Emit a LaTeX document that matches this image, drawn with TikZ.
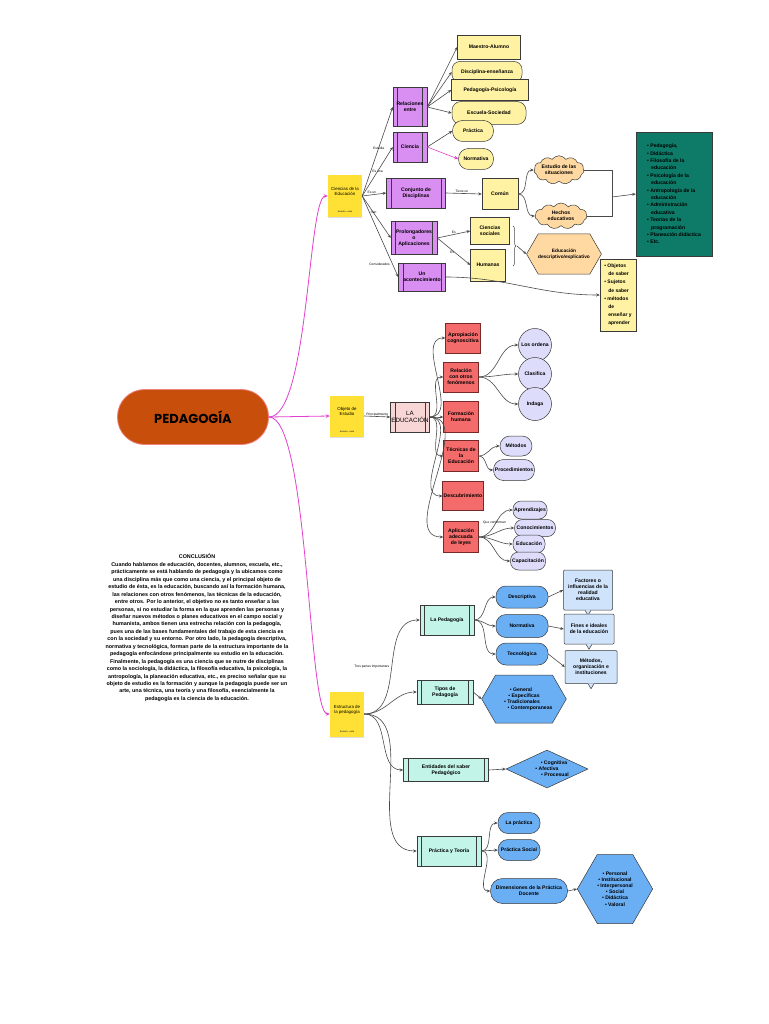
\documentclass[tikz,border=0pt]{standalone}
\usepackage{fontspec}
\setmainfont{Liberation Sans}
\newfontfamily\titlefont{Poppins}
\usetikzlibrary{arrows.meta,shapes.geometric,shapes.symbols,shapes.misc,decorations.pathreplacing,shadows}
\definecolor{edgec}{HTML}{4A4A4A}
\definecolor{bord}{HTML}{3A3A3A}
\definecolor{pinkl}{HTML}{E43FCF}
\definecolor{stickyY}{HTML}{FFE135}
\definecolor{purp}{HTML}{D98EF2}
\definecolor{yel}{HTML}{FFF3A3}
\definecolor{orl}{HTML}{FFD9A1}
\definecolor{tealD}{HTML}{0D7B67}
\definecolor{pinkL}{HTML}{F9D6D6}
\definecolor{redb}{HTML}{F46B6B}
\definecolor{lav}{HTML}{DDDDFB}
\definecolor{tealL}{HTML}{C2F5E7}
\definecolor{blueM}{HTML}{6AAEF4}
\definecolor{blueL}{HTML}{CFE3FB}
\definecolor{pedo}{HTML}{C84F0B}
\definecolor{pedbd}{HTML}{F08080}
\newcommand\nfs{\fontsize{5.1}{6.1}\selectfont\bfseries}
\newcommand\lfs{\fontsize{3.3}{4}\selectfont}
\tikzset{
  base/.style={font=\nfs, align=center, inner sep=1pt, text=black},
  ln/.style={draw=edgec, line width=0.6pt, -{Stealth[length=3.5pt,width=3pt]}},
  plain/.style={draw=edgec, line width=0.6pt},
  pk/.style={draw=pinkl, line width=0.8pt, -{Stealth[length=4pt,width=3.5pt]}},
  lbl/.style={font=\lfs, inner sep=0.5pt, text=black},
  sticky/.style={base, fill=stickyY, font={\fontsize{4.4}{5.4}\selectfont}, minimum width=34, minimum height=42,
    drop shadow={shadow xshift=0.3pt, shadow yshift=-1.2pt, opacity=0.25}},
  authortxt/.style={font={\fontsize{2.2}{2.5}\selectfont\bfseries}, inner sep=0pt, text=black!80},
  proc/.style={base, draw=bord, line width=0.5pt,
    path picture={\draw[bord, line width=0.5pt]
      ([xshift=4.5pt]path picture bounding box.north west) -- ([xshift=4.5pt]path picture bounding box.south west)
      ([xshift=-4.5pt]path picture bounding box.north east) -- ([xshift=-4.5pt]path picture bounding box.south east);}},
  purpbox/.style={proc, fill=purp},
  pinkbox/.style={proc, fill=pinkL},
  tealbox/.style={proc, fill=tealL},
  ybox/.style={base, draw=bord, line width=0.5pt, fill=yel},
  redbox/.style={base, draw=bord!70!red, line width=0.5pt, fill=redb},
  lavpill/.style={base, draw=bord, line width=0.5pt, fill=lav, rounded corners=8pt},
  lavcirc/.style={base, draw=bord, line width=0.5pt, fill=lav, circle, minimum size=33},
  bluepill/.style={base, draw=bord, line width=0.5pt, fill=blueM, rounded corners=10pt},
  callbox/.style={base, draw=bord, line width=0.5pt, fill=blueL, rounded corners=1pt},
  hexa/.style={base, draw=bord, line width=0.5pt, signal, signal to=west and east, signal pointer angle=120, inner sep=0pt},
  pedbox/.style={fill=pedo, draw=pedbd, line width=0.8pt, rounded corners=27pt, minimum width=151, minimum height=55,
    font={\titlefont\bfseries\fontsize{13}{13}\selectfont}, text=black},
}
\begin{document}
\begin{tikzpicture}[x=1pt,y=-1pt]
\useasboundingbox (0,0) rectangle (768,1024);
\fill[white] (0,0) rectangle (768,1024);

% ---------- main ----------
\node[pedbox] (ped) at (193,417) {PEDAGOGÍA};

\node[sticky] (s1) at (345,196) {Ciencias de la\\Educación\\[4pt]};
\node[authortxt] at ([yshift=5pt]s1.south) {Autor/a · nota};
\node[sticky, minimum height=41] (s2) at (347,416) {Objeto de\\Estudio\\[4pt]};
\node[authortxt] at ([yshift=5pt]s2.south) {Autor/a · nota};
\node[sticky, minimum height=45] (s3) at (347,714) {Estructura de\\la pedagogía\\[4pt]};
\node[authortxt] at ([yshift=5pt]s3.south) {Autor/a · nota};

\draw[pk] (ped.east) .. controls +(40,0) and +(-20,0) .. (s1.west);
\draw[pk] (ped.east) -- (s2.west);
\draw[pk] (ped.east) .. controls +(40,0) and +(-22,0) .. (s3.west);

% ---------- Ciencias de la educación ----------
\node[purpbox, minimum width=34, minimum height=39] (rel) at (410,107) {Relaciones\\entre};
\node[purpbox, minimum width=34, minimum height=30] (cie) at (410,147) {Ciencia};
\node[purpbox, minimum width=59, minimum height=30] (con) at (416,193) {Conjunto de\\Disciplinas};
\node[purpbox, minimum width=46, minimum height=33] (pro) at (414,238) {Prolongadores\\o\\Aplicaciones};
\node[purpbox, minimum width=47, minimum height=28] (aco) at (422,277) {Un\\acontecimiento};

\draw[ln] (s1.east) -- node[lbl,pos=0.54] {Estudia} (rel.west);
\draw[ln] (s1.east) -- node[lbl,pos=0.5] {Es una} (cie.west);
\draw[ln] (s1.east) -- node[lbl,pos=0.4,above] {Es un} (con.west);
\draw[ln] (s1.east) -- node[lbl,pos=0.4] {Son} (pro.west);
\draw[ln] (s1.east) -- node[lbl,pos=0.84,anchor=east,xshift=-2pt] {Considerados} (aco.west);

\node[ybox, minimum width=63, minimum height=24] (ma) at (489,47) {Maestro-Alumno};
\node[ybox, rounded corners=8pt, minimum width=70, minimum height=21] (de) at (487,72) {Disciplina-enseñanza};
\node[ybox, minimum width=77, minimum height=21] (pp) at (490,90) {Pedagogía-Psicología};
\node[ybox, rounded corners=9pt, minimum width=74, minimum height=23] (es) at (489,113) {Escuela-Sociedad};
\node[ybox, rounded corners=10pt, minimum width=41, minimum height=21] (pra) at (473,131) {Práctica};
\node[ybox, rounded corners=10pt, minimum width=35, minimum height=21] (nor) at (476,159) {Normativa};

\draw[ln] (rel.east) -- (ma.west);
\draw[ln] (rel.east) -- (de.west);
\draw[ln] (rel.east) -- (pp.west);
\draw[ln] (rel.east) -- (es.west);
\draw[ln] (cie.east) -- (pra.west);
\draw[pk, line width=0.6pt] (cie.east) -- (nor.west);

\node[ybox, minimum width=36, minimum height=31] (com) at (500,194) {Común};
\draw[ln] (con.east) -- node[lbl,pos=0.45,above] {Tiene un} (com.west);

\node[base, draw=bord, line width=0.5pt, fill=orl, cloud, cloud puffs=11, cloud puff arc=110, aspect=2.2,
  minimum width=48, minimum height=26, inner sep=0pt] (est) at (559,170) {Estudio de las\\situaciones};
\node[base, draw=bord, line width=0.5pt, fill=orl, cloud, cloud puffs=11, cloud puff arc=110, aspect=2.2,
  minimum width=52, minimum height=26, inner sep=0pt] (hec) at (561,216) {Hechos\\educativos};
\draw[ln] (com.east) to[out=0,in=180] (est.west);
\draw[ln] (com.east) to[out=0,in=180] (hec.west);

\node[base, draw=bord, line width=0.5pt, fill=tealD, minimum width=76, minimum height=124, align=left,
  font={\fontsize{5.1}{7.4}\selectfont\bfseries}] (tl) at (674,194)
  {• Pedagogía,\\• Didáctica\\• Filosofía de la\\\hspace*{4pt}educación\\• Psicología de la\\\hspace*{4pt}educación\\• Antropología de la\\\hspace*{4pt}educación\\• Administración\\\hspace*{4pt}educativa\\• Teorías de la\\\hspace*{4pt}programación\\• Planeación didáctica\\• Etc.};
\coordinate (jn) at (612,197);
\draw[plain] (est.east) -| (jn);
\draw[plain] (hec.east) -| (jn);
\draw[ln] (jn) -- (tl.west);

\node[ybox, minimum width=39, minimum height=27] (cs) at (490,231) {Ciencias\\sociales};
\node[ybox, minimum width=35, minimum height=32] (hum) at (488,265) {Humanas};
\draw[ln] (pro.east) -- node[lbl,pos=0.5,above] {Es} (cs.west);
\draw[ln] (pro.east) -- node[lbl,pos=0.45,below] {Es} (hum.west);

\node[hexa, fill=orl, minimum width=67, minimum height=40, font={\fontsize{4.8}{6}\selectfont\bfseries}] (edh) at (564,254) {Educación\\descriptivo/explicativo};
\draw[edgec, line width=0.5pt, decorate, decoration={brace, amplitude=3pt}] (513,226) -- (513,266);
\coordinate (bt) at (517,246);
\draw[ln] (bt) -- (edh.west);

\node[ybox, minimum width=36, minimum height=72, align=left, font={\fontsize{5}{8.2}\selectfont\bfseries}] (obj) at (618,295)
  {• Objetos\\\hspace*{4pt}de saber\\• Sujetos\\\hspace*{4pt}de saber\\• métodos\\\hspace*{4pt}de\\\hspace*{4pt}enseñar y\\\hspace*{4pt}aprender};
\draw[ln] (aco.east) to[out=0,in=180] (obj.west);

% ---------- Objeto de estudio ----------
\node[pinkbox, minimum width=35, minimum height=30, font={\fontsize{6.2}{7.2}\selectfont}] (lae) at (410,417) {LA\\EDUCACIÓN};
\draw[ln] (s2.east) -- node[lbl,above] {Principalmente} (lae.west);

\node[redbox, minimum width=35, minimum height=30] (r1) at (463,338) {Apropiación\\cognoscitiva};
\node[redbox, minimum width=35, minimum height=30] (r2) at (461,377) {Relación\\con otros\\fenómenos};
\node[redbox, minimum width=35, minimum height=31] (r3) at (461,417) {Formación\\humana};
\node[redbox, minimum width=35, minimum height=31] (r4) at (461,456) {Técnicas de\\la\\Educación};
\node[redbox, minimum width=40, minimum height=29] (r5) at (463,496) {Descubrimiento};
\node[redbox, minimum width=35, minimum height=31] (r6) at (461,537) {Aplicación\\adecuada\\de leyes};
\foreach \r in {r1,r2,r3,r4,r5,r6} \draw[ln] (lae.east) to[out=0,in=180] (\r.west);

\node[lavcirc] (c1) at (535,345) {Los ordena};
\node[lavcirc] (c2) at (535,374) {Clasifica};
\node[lavcirc] (c3) at (535,404) {Indaga};
\foreach \c in {c1,c2,c3} \draw[ln] (r2.east) to[out=0,in=180] (\c.west);

\node[lavpill, rounded corners=10pt, minimum width=32, minimum height=20] (m1) at (516,446) {Métodos};
\node[lavpill, rounded corners=10pt, minimum width=41, minimum height=21] (m2) at (514,470) {Procedimientos};
\draw[ln] (r4.east) to[out=0,in=180] (m1.west);
\draw[ln] (r4.east) to[out=0,in=180] (m2.west);

\node[lavpill, minimum width=34, minimum height=18] (a1) at (530,510) {Aprendizajes};
\node[lavpill, minimum width=41, minimum height=17] (a2) at (535,528) {Conocimientos};
\node[lavpill, minimum width=32, minimum height=18] (a3) at (529,544) {Educación};
\node[lavpill, minimum width=35, minimum height=18] (a4) at (528,561) {Capacitación};
\draw[ln] (r6.east) to[out=0,in=180] node[lbl,pos=0.45,above=1pt] {Que conforman} (a1.west);
\draw[ln] (r6.east) to[out=0,in=180] (a2.west);
\draw[ln] (r6.east) to[out=0,in=180] (a3.west);
\draw[ln] (r6.east) to[out=0,in=180] (a4.west);

% ---------- Estructura de la pedagogía ----------
\node[tealbox, minimum width=54, minimum height=30] (lp) at (447,620) {La Pedagogía};
\node[tealbox, minimum width=56, minimum height=24] (tp) at (445,692) {Tipos de\\Pedagogía};
\node[tealbox, minimum width=85, minimum height=23] (en) at (446,770) {Entidades del saber\\Pedagógico};
\node[tealbox, minimum width=64, minimum height=30] (pt) at (449,851) {Práctica y Teoría};
\draw[ln] (s3.east) to[out=0,in=180] node[lbl,pos=0.5,left=2pt] {Tres partes importantes} (lp.west);
\draw[ln] (s3.east) to[out=0,in=180] (tp.west);
\draw[ln] (s3.east) to[out=0,in=180] (en.west);
\draw[ln] (s3.east) to[out=0,in=180] (pt.west);

\node[bluepill, minimum width=52, minimum height=22] (b1) at (522,597) {Descriptiva};
\node[bluepill, minimum width=52, minimum height=23] (b2) at (522,626) {Normativa};
\node[bluepill, minimum width=52, minimum height=22] (b3) at (522,654) {Tecnológica};
\draw[ln] (lp.east) to[out=0,in=180] (b1.west);
\draw[ln] (lp.east) to[out=0,in=180] (b2.west);
\draw[ln] (lp.east) to[out=0,in=180] (b3.west);

\node[callbox, minimum width=49, minimum height=40] (k1) at (588,590) {Factores o\\influencias de la\\realidad\\educativa};
\fill[blueL] ([xshift=-3pt,yshift=0.4pt]k1.south) -- ([yshift=-5pt]k1.south) -- ([xshift=3pt,yshift=0.4pt]k1.south) -- cycle;
\draw[bord, line width=0.5pt] ([xshift=-3pt]k1.south) -- ([yshift=-5pt]k1.south) -- ([xshift=3pt]k1.south);
\node[callbox, minimum width=50, minimum height=30] (k2) at (589,629) {Fines e ideales\\de la educación};
\fill[blueL] ([xshift=-3pt,yshift=0.4pt]k2.south) -- ([yshift=-5pt]k2.south) -- ([xshift=3pt,yshift=0.4pt]k2.south) -- cycle;
\draw[bord, line width=0.5pt] ([xshift=-3pt]k2.south) -- ([yshift=-5pt]k2.south) -- ([xshift=3pt]k2.south);
\node[callbox, minimum width=52, minimum height=33] (k3) at (591,667) {Métodos,\\organización e\\instituciones};
\fill[blueL] ([xshift=-3pt,yshift=0.4pt]k3.south) -- ([yshift=-5pt]k3.south) -- ([xshift=3pt,yshift=0.4pt]k3.south) -- cycle;
\draw[bord, line width=0.5pt] ([xshift=-3pt]k3.south) -- ([yshift=-5pt]k3.south) -- ([xshift=3pt]k3.south);
\draw[ln] (b1.east) -- (k1.west);
\draw[ln] (b2.east) -- (k2.west);
\draw[ln] (b3.east) -- (k3.west);

\node[hexa, fill=blueM, minimum width=66, minimum height=48] (hx1) at (524,699) {\hspace*{-6pt}• General\\• Específicas\\\hspace*{-4pt}• Tradicionales\\\hspace*{12pt}• Contemporaneas};
\draw[ln] (tp.east) -- (hx1.west);

\node[base, draw=bord, line width=0.5pt, fill=blueM, diamond, aspect=2.2, inner sep=0pt, minimum width=82, minimum height=38] (dm) at (547,769)
  {\hspace*{14pt}• Cognitiva\\• Afectiva\hspace*{8pt}\\\hspace*{16pt}• Procesual};
\draw[ln] (en.east) -- (dm.west);

\node[bluepill, minimum width=42, minimum height=21] (p1) at (519,823) {La práctica};
\node[bluepill, minimum width=42, minimum height=21] (p2) at (519,850) {Práctica Social};
\node[bluepill, rounded corners=12pt, minimum width=77, minimum height=25] (p3) at (529,891) {Dimensiones de la Práctica\\Docente};
\draw[ln] (pt.east) to[out=0,in=180] (p1.west);
\draw[ln] (pt.east) -- (p2.west);
\draw[ln] (pt.east) to[out=0,in=180] (p3.west);

\node[hexa, fill=blueM, minimum width=67, minimum height=69] (hx2) at (615,889) {• Personal\\• Institucional\\• Interpersonal\\• Social\\• Didáctica\\• Valoral};
\draw[ln] (p3.east) -- (hx2.west);

% ---------- Conclusion ----------
\node[anchor=north, align=center, inner sep=0pt, font={\fontsize{5.4}{7.44}\selectfont\bfseries}] (concl) at (197,554) {CONCLUSIÓN\\
Cuando hablamos de educación, docentes, alumnos, escuela, etc.,\\
prácticamente se está hablando de pedagogía y la ubicamos como\\
una disciplina más que como una ciencia, y el principal objeto de\\
estudio de ésta, es la educación, buscando así la formación humana,\\
las relaciones con otros fenómenos, las técnicas de la educación,\\
entre otros. Por lo anterior, el objetivo no es tanto enseñar a las\\
personas, si no estudiar la forma en la que aprenden las personas y\\
diseñar nuevos métodos o planes educativos en el campo social y\\
humanista, ambos tienen una estrecha relación con la pedagogía,\\
pues una de las bases fundamentales del trabajo de esta ciencia es\\
con la sociedad y su entorno. Por otro lado, la pedagogía descriptiva,\\
normativa y tecnológica, forman parte de la estructura importante de la\\
pedagogía enfocándose principalmente su estudio en la educación.\\
Finalmente, la pedagogía es una ciencia que se nutre de disciplinas\\
como la sociología, la didáctica, la filosofía educativa, la psicología, la\\
antropología, la planeación educativa, etc., es preciso señalar que su\\
objeto de estudio es la formación y aunque la pedagogía puede ser un\\
arte, una técnica, una teoría y una filosofía, esencialmente la\\
pedagogía es la ciencia de la educación.};
\end{tikzpicture}
\end{document}
